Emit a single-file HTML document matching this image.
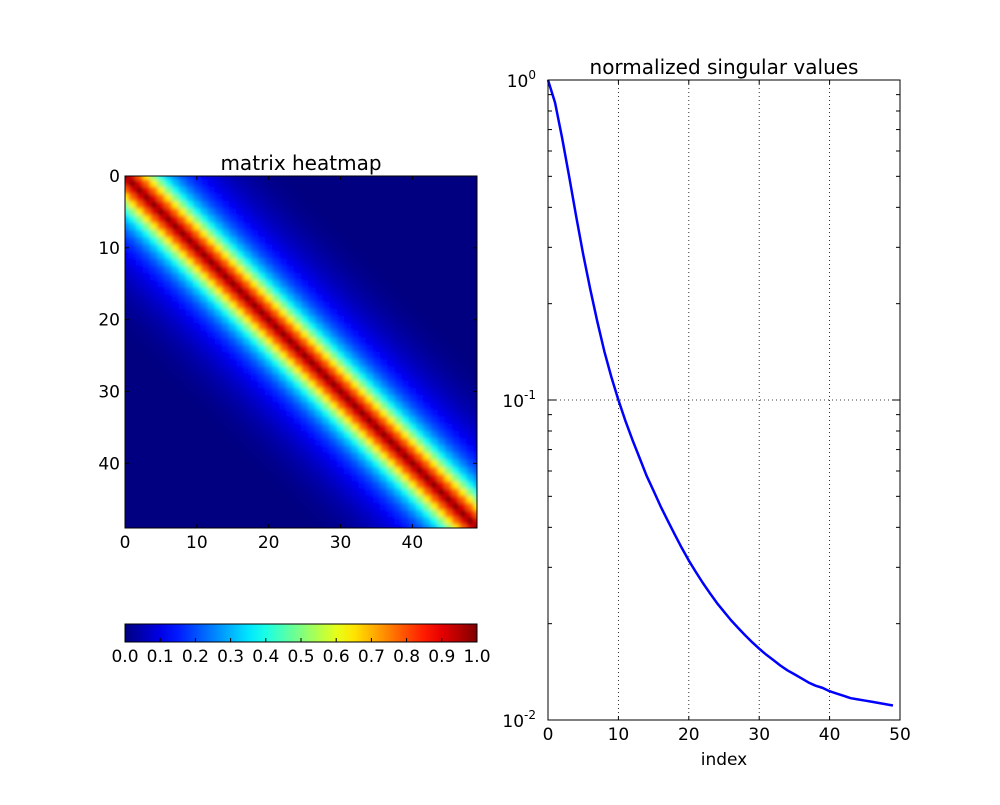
<!DOCTYPE html>
<html><head><meta charset="utf-8"><style>
body{margin:0;background:#fff;}
svg text{font-family:"DejaVu Sans","Liberation Sans",sans-serif;fill:#000;}
</style></head><body>
<svg id="fig" width="1000" height="800" xmlns="http://www.w3.org/2000/svg">
<rect width="1000" height="800" fill="#fff"/>
<defs><filter id="smooth" x="0" y="0" width="1" height="1"><feGaussianBlur stdDeviation="2.2" edgeMode="duplicate"/></filter></defs>
<g id="hm"></g>
<g id="cb"></g>
<g id="sv"></g>
</svg>
<script>
// Heatmap: Toeplitz matrix, value depends on |i-j|
const matrixSize = 50;
const bandValues = [1.0,0.9,0.78,0.64,0.5,0.39,0.31,0.25,0.2,0.165,0.135,0.11,0.09,0.075,0.06,0.048,0.038,0.029,0.021,0.014,0.009,0.005,0.002];
const heatTicks = [0,10,20,30,40];
const colorbarTicks = ["0.0","0.1","0.2","0.3","0.4","0.5","0.6","0.7","0.8","0.9","1.0"];
// Singular values
const svIndex = Array.from({length:50},(_,i)=>i);
const svValues = [1.0,0.85,0.66,0.50,0.375,0.285,0.222,0.176,0.142,0.118,0.100,0.086,0.075,0.066,0.058,0.052,0.0465,0.042,0.038,0.0345,0.0315,0.0290,0.0268,0.0249,0.0232,0.0218,0.0205,0.0194,0.0184,0.0175,0.0167,0.0160,0.0154,0.0148,0.0143,0.0139,0.0135,0.0131,0.0128,0.0126,0.0123,0.0121,0.0119,0.0117,0.0116,0.0115,0.0114,0.0113,0.0112,0.0111];
const svXTicks = [0,10,20,30,40,50];
const svYTicks = [-2,-1,0];

const NS="http://www.w3.org/2000/svg";
function mk(tag,attrs,parent){const e=document.createElementNS(NS,tag);for(const k in attrs)e.setAttribute(k,attrs[k]);parent.appendChild(e);return e;}
function jet(v){
  const c=x=>Math.max(0,Math.min(1,x));
  const r=c(1.5-Math.abs(4*v-3)),g=c(1.5-Math.abs(4*v-2)),b=c(1.5-Math.abs(4*v-1));
  return `rgb(${Math.round(r*255)},${Math.round(g*255)},${Math.round(b*255)})`;
}
function bandVal(d){return d<bandValues.length?bandValues[d]:0;}

// ---- heatmap ----
const hm=document.getElementById('hm');
const HX0=125,HX1=477,HY0=176,HY1=528;
const hx=v=>HX0+(v)*(HX1-HX0)/49, hy=v=>HY0+(v)*(HY1-HY0)/49;
const cp=mk('clipPath',{id:'hclip'},hm);
mk('rect',{x:HX0,y:HY0,width:HX1-HX0,height:HY1-HY0},cp);
const clipG=mk('g',{'clip-path':'url(#hclip)'},hm);
const cells=mk('g',{filter:'url(#smooth)'},clipG);


for(let i=0;i<matrixSize;i++)for(let j=0;j<matrixSize;j++){
  const x0=hx(j-0.5),y0=hy(i-0.5);
  const r=mk('rect',{x:x0.toFixed(2),y:y0.toFixed(2),width:(hx(j+0.5)-x0+0.6).toFixed(2),height:(hy(i+0.5)-y0+0.6).toFixed(2),fill:jet(bandVal(Math.abs(i-j)))},cells);
  
  
}
mk('rect',{x:HX0,y:HY0,width:HX1-HX0,height:HY1-HY0,fill:'none',stroke:'#000','stroke-width':1},hm);
heatTicks.forEach(t=>{
  mk('line',{x1:hx(t),x2:hx(t),y1:HY1,y2:HY1-4,stroke:'#000'},hm);
  mk('line',{x1:hx(t),x2:hx(t),y1:HY0,y2:HY0+4,stroke:'#000'},hm);
  mk('line',{x1:HX0,x2:HX0+4,y1:hy(t),y2:hy(t),stroke:'#000'},hm);
  mk('line',{x1:HX1,x2:HX1-4,y1:hy(t),y2:hy(t),stroke:'#000'},hm);
  const tx=mk('text',{x:hx(t),y:HY1+20,'text-anchor':'middle','font-size':17},hm);tx.textContent=t;
  
  
  const ty=mk('text',{x:HX0-5,y:hy(t)+6,'text-anchor':'end','font-size':17},hm);ty.textContent=t;
  
  
});
const ht=mk('text',{x:(HX0+HX1)/2,y:HY0-6,'text-anchor':'middle','font-size':20},hm);ht.textContent='matrix heatmap';



// ---- colorbar ----
const cb=document.getElementById('cb');
const CX0=125,CX1=477,CY0=624,CY1=642;
const defs=mk('defs',{},cb);
const grad=mk('linearGradient',{id:'jetg',x1:0,x2:1,y1:0,y2:0},defs);
for(let k=0;k<=20;k++)mk('stop',{offset:k/20,'stop-color':jet(k/20)},grad);
mk('rect',{x:CX0,y:CY0,width:CX1-CX0,height:CY1-CY0,fill:'url(#jetg)',stroke:'#000'},cb);
colorbarTicks.forEach((l,k)=>{
  const x=CX0+k*(CX1-CX0)/10;
  mk('line',{x1:x,x2:x,y1:CY1,y2:CY1-4,stroke:'#000'},cb);
  const t=mk('text',{x:x,y:CY1+20,'text-anchor':'middle','font-size':17},cb);t.textContent=l;
  
  
});

// ---- singular values ----
const sv=document.getElementById('sv');
const SX0=548,SX1=900,SY0=80,SY1=720;
const sx=v=>SX0+v*(SX1-SX0)/50, sy=v=>SY0-(Math.log10(v))*(SY1-SY0)/2;
mk('rect',{x:SX0,y:SY0,width:SX1-SX0,height:SY1-SY0,fill:'#fff'},sv);
[10,20,30,40].forEach(t=>{const g=mk('line',{x1:sx(t),x2:sx(t),y1:SY0,y2:SY1,stroke:'#000','stroke-dasharray':'1,3','stroke-width':0.8},sv);
  });
mk('line',{x1:SX0,x2:SX1,y1:sy(0.1),y2:sy(0.1),stroke:'#000','stroke-dasharray':'1,3','stroke-width':0.8},sv);
let d='';svIndex.forEach((i,k)=>{d+=(k?'L':'M')+sx(i).toFixed(2)+','+sy(svValues[k]).toFixed(2);});
const line=mk('path',{d:d,fill:'none',stroke:'#0000ff','stroke-width':2.5,'stroke-linejoin':'round'},sv);


mk('rect',{x:SX0,y:SY0,width:SX1-SX0,height:SY1-SY0,fill:'none',stroke:'#000'},sv);
svXTicks.forEach(t=>{
  mk('line',{x1:sx(t),x2:sx(t),y1:SY1,y2:SY1-4,stroke:'#000'},sv);
  mk('line',{x1:sx(t),x2:sx(t),y1:SY0,y2:SY0+4,stroke:'#000'},sv);
  const tx=mk('text',{x:sx(t),y:SY1+20,'text-anchor':'middle','font-size':17},sv);tx.textContent=t;
  
  
});
svYTicks.forEach(e=>{
  const y=sy(Math.pow(10,e));
  mk('line',{x1:SX0,x2:SX0+8,y1:y,y2:y,stroke:'#000'},sv);
  mk('line',{x1:SX1,x2:SX1-8,y1:y,y2:y,stroke:'#000'},sv);
  const t=mk('text',{x:SX0-12,y:y+7,'text-anchor':'end','font-size':17},sv);
  t.textContent='10';
  const s=mk('tspan',{'font-size':12,dy:-8},t);s.textContent=String(e);
  
  
  if(e<0)for(let m=2;m<=9;m++){const yy=sy(m*Math.pow(10,e));
    mk('line',{x1:SX0,x2:SX0+4,y1:yy,y2:yy,stroke:'#000'},sv);
    mk('line',{x1:SX1,x2:SX1-4,y1:yy,y2:yy,stroke:'#000'},sv);}
});
const st=mk('text',{x:(SX0+SX1)/2,y:SY0-6,'text-anchor':'middle','font-size':20},sv);st.textContent='normalized singular values';


const xl=mk('text',{x:(SX0+SX1)/2,y:SY1+45,'text-anchor':'middle','font-size':17},sv);xl.textContent='index';


</script>
</body></html>
